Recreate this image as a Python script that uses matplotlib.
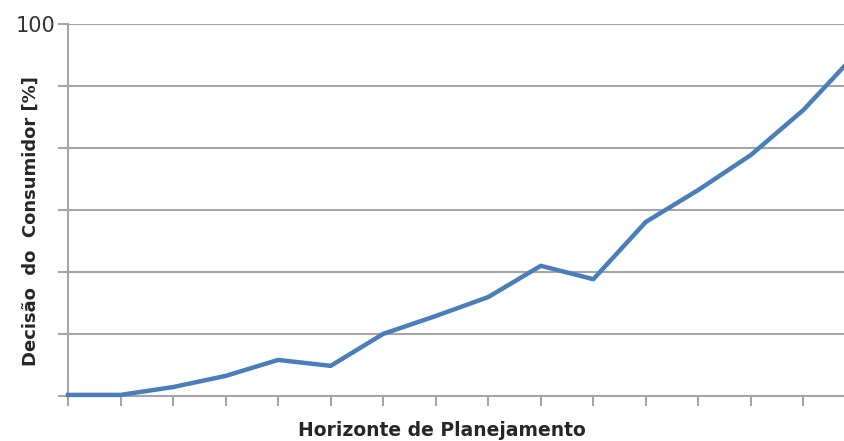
import matplotlib
matplotlib.use("Agg")
import matplotlib.pyplot as plt
import numpy as np

# Data
periods = list(range(1, 17))
decisao = [0.3, 0.3, 2.4, 5.4, 9.7, 8.1, 16.7, 21.5, 26.6, 35.0, 31.4, 46.8, 55.4, 64.8, 76.9, 92.0]
y_ticks = [0, 100/6, 200/6, 300/6, 400/6, 500/6, 100]
y_tick_labels = ["", "", "", "", "", "", "100"]

W, H = 845, 441
fig = plt.figure(figsize=(W/100, H/100), dpi=100)
left_px, right_px, top_px, bot_px = 68, 856, 24, 396
ax = fig.add_axes([left_px/W, 1 - bot_px/H, (right_px-left_px)/W, (bot_px-top_px)/H])

grid_c = "#a6a6a6"
ax.plot(periods, decisao, color="#4a7ebb", lw=3.2, solid_joinstyle="round", zorder=3, clip_on=False)

ax.set_xlim(1, 16)
ax.set_ylim(0, 100)
ax.set_xticks(periods)
ax.set_xticklabels([])
ax.set_yticks(y_ticks)
ax.set_yticklabels(y_tick_labels)
ax.yaxis.grid(True, color=grid_c, lw=1.5)
ax.set_axisbelow(True)

for s in ["top", "right"]:
    ax.spines[s].set_visible(False)
for s in ["left", "bottom"]:
    ax.spines[s].set_color(grid_c)
    ax.spines[s].set_linewidth(1.5)
ax.tick_params(axis="both", direction="out", color=grid_c, width=1.5, length=7)
ax.tick_params(axis="y", labelsize=15, labelcolor="#333333", pad=2)

fig.text(442/W, 1 - 431/H, "Horizonte de Planejamento", ha="center", va="center",
         fontsize=13.5, fontweight="bold", color="#262626")
fig.text(31/W, 1 - 221/H, "Decisão  do  Consumidor [%]", ha="center", va="center",
         rotation=90, fontsize=13, fontweight="bold", color="#262626")

fig.savefig("out.png", dpi=100)
